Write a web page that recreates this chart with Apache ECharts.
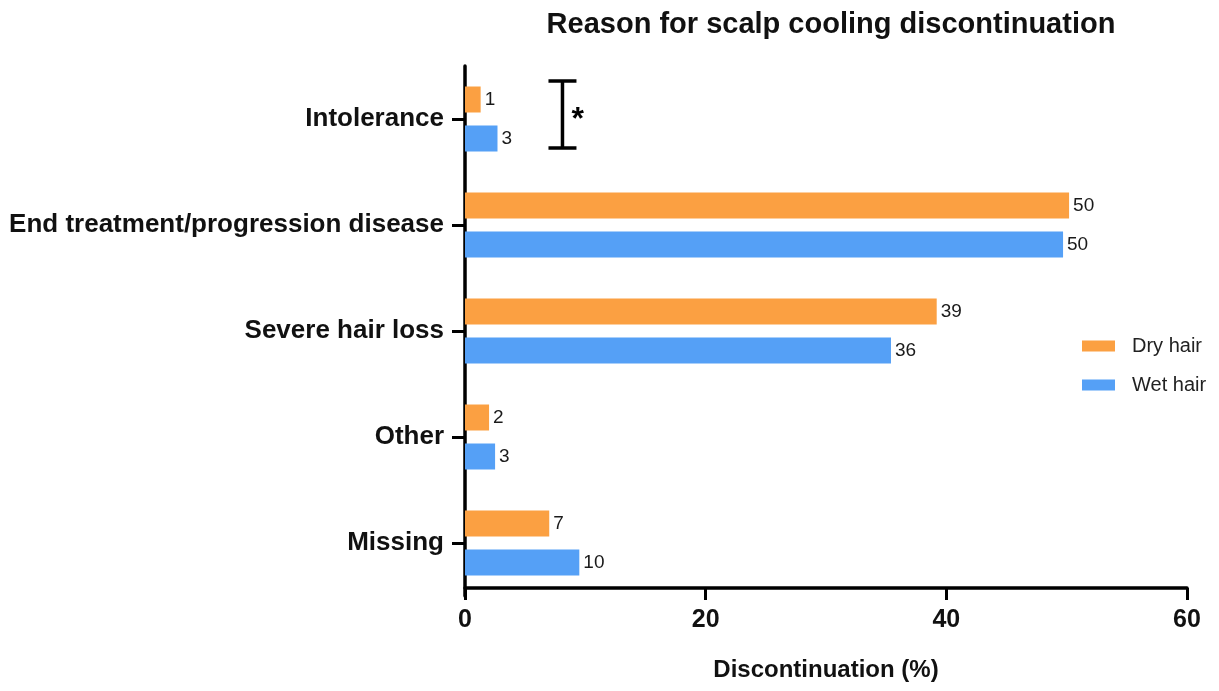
<!DOCTYPE html>
<html>
<head>
<meta charset="utf-8">
<script src="https://cdn.jsdelivr.net/npm/echarts@6/dist/echarts.min.js"></script>
<style>
  html, body { margin: 0; padding: 0; background: #fff; }
  #chart { width: 1219px; height: 691px; }
</style>
</head>
<body>
<div id="chart"></div>
<script>
// data
const categories = ['Intolerance', 'End treatment/progression disease', 'Severe hair loss', 'Other', 'Missing'];
const dryHair = [1.3, 50.2, 39.2, 2.0, 7.0];
const wetHair = [2.7, 49.7, 35.4, 2.5, 9.5];
const dryLabels = ['1', '50', '39', '2', '7'];
const wetLabels = ['3', '50', '36', '3', '10'];
const xTicks = [0, 20, 40, 60];
const bracketX = 8.1;

const FONT = '"Liberation Sans", Arial, sans-serif';

function barSeries(name, values, labels, color) {
    return {
        name: name,
        type: 'bar',
        data: values,
        barWidth: 26,
        barGap: '50%',
        itemStyle: { color: color },
        label: {
            show: true,
            position: 'right',
            distance: 4,
            color: '#1a1a1a',
            fontFamily: FONT,
            fontSize: 19,
            formatter: p => labels[p.dataIndex]
        }
    };
}

const option = {
    animation: false,
    title: {
        text: 'Reason for scalp cooling discontinuation',
        left: 826,
        top: 5,
        textAlign: 'center',
        textStyle: { fontFamily: FONT, fontSize: 29, fontWeight: 'bold', color: '#111' }
    },
    legend: {
        orient: 'vertical',
        left: 1077,
        top: 331,
        itemWidth: 33,
        itemHeight: 11,
        itemGap: 19,
        icon: 'rect',
        textStyle: { fontFamily: FONT, fontSize: 20, color: '#222', padding: [0, 0, 0, 12] },
        data: ['Dry hair', 'Wet hair']
    },
    grid: { left: 465, right: 32, top: 66, bottom: 95 },
    xAxis: {
        type: 'value',
        min: xTicks[0],
        max: xTicks[xTicks.length - 1],
        interval: 20,
        offset: -8,
        name: 'Discontinuation (%)',
        nameLocation: 'middle',
        nameGap: 70,
        nameTextStyle: { fontFamily: FONT, fontSize: 24, fontWeight: 'bold', color: '#111' },
        splitLine: { show: false },
        axisLine: { show: true, lineStyle: { color: '#000', width: 3.5 } },
        axisTick: { show: true, length: 12, lineStyle: { color: '#000', width: 3 } },
        axisLabel: { margin: 20, fontFamily: FONT, fontSize: 25, fontWeight: 'bold', color: '#111' }
    },
    yAxis: {
        type: 'category',
        data: categories,
        inverse: true,
        axisLine: { show: true, lineStyle: { color: '#000', width: 3.5 } },
        axisTick: { show: true, alignWithLabel: true, length: 13, lineStyle: { color: '#000', width: 3 } },
        axisLabel: { margin: 21, fontFamily: FONT, fontSize: 26, fontWeight: 'bold', color: '#111' }
    },
    series: [
        barSeries('Dry hair', dryHair, dryLabels, '#FBA042'),
        barSeries('Wet hair', wetHair, wetLabels, '#55A0F6')
    ]
};

const chart = echarts.init(document.getElementById('chart'));
chart.setOption(option);

// significance bracket between the two Intolerance bars
const bx = chart.convertToPixel({ xAxisIndex: 0 }, bracketX);
const cy = chart.convertToPixel({ yAxisIndex: 0 }, categories[0]);
const brTop = cy - 38, brBottom = cy + 29, cap = 14;
const stroke = { stroke: '#000', lineWidth: 3.5 };
chart.setOption({
    graphic: [
        { type: 'line', shape: { x1: bx, y1: brTop, x2: bx, y2: brBottom }, style: stroke },
        { type: 'line', shape: { x1: bx - cap, y1: brTop, x2: bx + cap, y2: brTop }, style: stroke },
        { type: 'line', shape: { x1: bx - cap, y1: brBottom, x2: bx + cap, y2: brBottom }, style: stroke },
        { type: 'text', x: bx + 9, y: cy - 15, style: { text: '*', fontFamily: FONT, fontSize: 32, fontWeight: 'bold', fill: '#000' } }
    ]
});
</script>
</body>
</html>
